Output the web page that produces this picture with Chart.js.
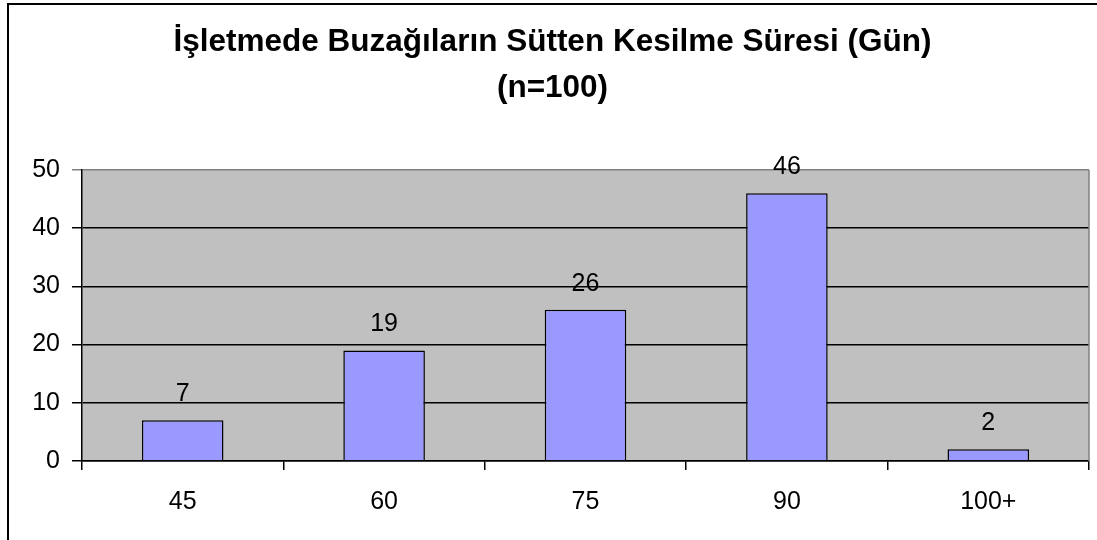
<!DOCTYPE html>
<html lang="tr">
<head>
<meta charset="utf-8">
<title>Sütten Kesilme Süresi</title>
<script src="https://cdn.jsdelivr.net/npm/chart.js@4.4.1/dist/chart.umd.min.js"></script>
<style>
  html, body { margin: 0; padding: 0; background: #fff; }
  #wrap { position: relative; width: 1097px; height: 540px; }
</style>
</head>
<body>
<div id="wrap"><canvas id="chart" width="1097" height="540"></canvas></div>
<script>
"use strict";

/* ── Data ─────────────────────────────────────── */
const CATEGORIES = ['45', '60', '75', '90', '100+'];
const COUNTS     = [7, 19, 26, 46, 2];
const Y_TICKS    = [0, 10, 20, 30, 40, 50];
const TITLE_LINES = ['İşletmede Buzağıların Sütten Kesilme Süresi (Gün)', '(n=100)'];

const FONT = 'Arial, "Liberation Sans", sans-serif';

/* ── Plugins ──────────────────────────────────── */
// grey plot area + outer frame
const plotBg = {
  id: 'plotBg',
  beforeDraw(chart) {
    const { ctx, chartArea: a } = chart;
    ctx.save();
    ctx.fillStyle = '#C0C0C0';
    ctx.fillRect(a.left, a.top, a.right - a.left, a.bottom - a.top);
    ctx.strokeStyle = '#000';
    ctx.lineWidth = 2;
    ctx.strokeRect(8, 4, 1200, 700);
    ctx.restore();
  },
  afterDraw(chart) {
    const { ctx, chartArea: a } = chart;
    ctx.save();
    ctx.strokeStyle = '#808080';
    ctx.lineWidth = 1.5;
    ctx.beginPath();
    ctx.moveTo(a.right, a.top);
    ctx.lineTo(a.right, a.bottom);
    ctx.stroke();
    ctx.restore();
  }
};

// value labels above bars
const barLabels = {
  id: 'barLabels',
  afterDatasetsDraw(chart) {
    const { ctx } = chart;
    const meta = chart.getDatasetMeta(0);
    ctx.save();
    ctx.font = `25px ${FONT}`;
    ctx.fillStyle = '#000';
    ctx.textAlign = 'center';
    ctx.textBaseline = 'middle';
    meta.data.forEach((bar, i) => {
      ctx.fillText(String(COUNTS[i]), bar.x, bar.y - 26);
    });
    ctx.restore();
  }
};

/* ── Chart ────────────────────────────────────── */
new Chart(document.getElementById('chart'), {
  type: 'bar',
  data: {
    labels: CATEGORIES,
    datasets: [{
      data: COUNTS,
      backgroundColor: '#9999FF',
      borderColor: '#000',
      borderWidth: 1.5,
      barPercentage: 0.405,
      categoryPercentage: 1,
    }],
  },
  options: {
    responsive: false,
    animation: false,
    layout: { padding: { left: 16, right: 8, top: 0, bottom: 0 } },
    plugins: {
      legend: { display: false },
      tooltip: { enabled: false },
      title: {
        display: true,
        text: TITLE_LINES,
        color: '#000',
        font: { family: FONT, size: 31.5, weight: 'bold', lineHeight: 1.46 },
        padding: { top: 19, bottom: 59 },
      },
    },
    scales: {
      x: {
        grid: {
          offset: true,
          drawOnChartArea: false,
          color: '#000',
          lineWidth: 1.5,
          tickLength: 9,
        },
        border: { color: '#000', width: 1.5 },
        ticks: { color: '#000', font: { family: FONT, size: 25 }, padding: 17 },
        afterFit(scale) { scale.height = 79; },
      },
      y: {
        min: 0,
        max: 50,
        afterBuildTicks(scale) { scale.ticks = Y_TICKS.map(v => ({ value: v })); },
        grid: {
          color: ctx => (ctx.tick && ctx.tick.value === 50 ? '#808080' : '#000'),
          lineWidth: 1.5,
          tickLength: 10,
        },
        border: { color: '#000', width: 1.5 },
        ticks: { color: '#000', font: { family: FONT, size: 25 }, padding: 12 },
        afterFit(scale) { scale.width = 66; },
      },
    },
  },
  plugins: [plotBg, barLabels],
});
</script>
</body>
</html>
